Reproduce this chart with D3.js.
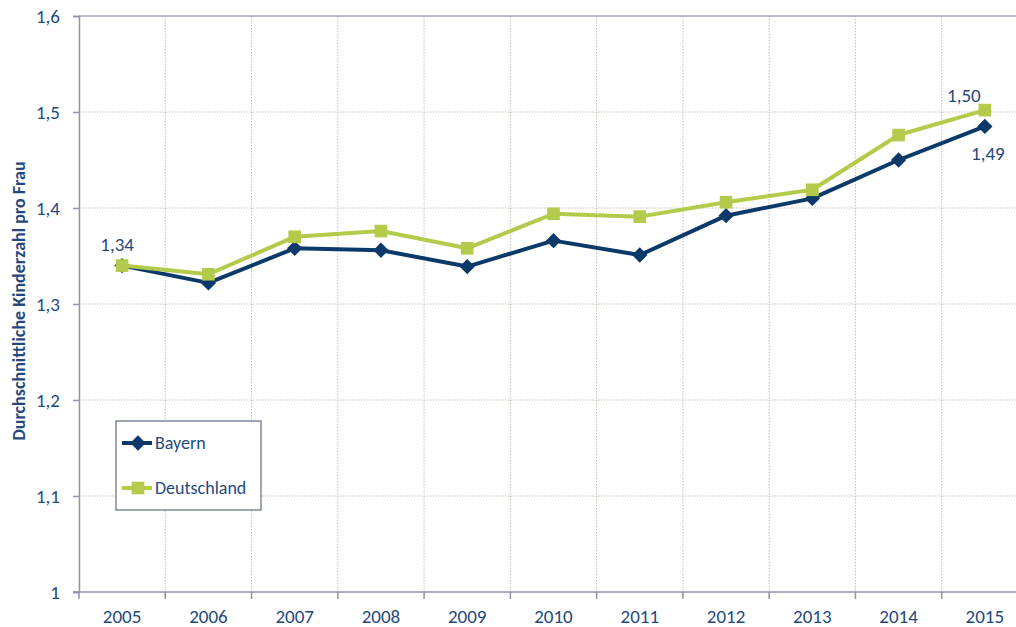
<!DOCTYPE html>
<head>
    <meta charset="utf-8">
    <script src="https://d3js.org/d3.v7.min.js"></script>
    <style>
        body { margin: 0; background: #fff; }
    </style>
</head>
<body>
<svg width="1016" height="627" font-family="Carlito, Lato, sans-serif"></svg>
<script>

// chart values
const years = ["2005", "2006", "2007", "2008", "2009", "2010", "2011", "2012", "2013", "2014", "2015"];
const bayern = [1.340, 1.322, 1.358, 1.356, 1.339, 1.366, 1.351, 1.392, 1.410, 1.450, 1.485];
const deutschland = [1.340, 1.331, 1.370, 1.376, 1.358, 1.394, 1.391, 1.406, 1.419, 1.476, 1.502];
const yTicks = [1, 1.1, 1.2, 1.3, 1.4, 1.5, 1.6];
const seriesNames = ["Bayern", "Deutschland"];
// value labels: [series index, year index, text]
const valueLabels = [[1, 0, "1,34"], [1, 10, "1,50"], [0, 10, "1,49"]];

const textColor = "#1f497d",
      axisColor = "#8e93a7",
      gridColor = "#c4bdb0",
      colors = ["#0b3a6a", "#b3cb4b"];

let svg = d3.select("svg");

// plot area runs off the right edge, like the original
let x = d3.scaleBand()
    .domain(years)
    .range([79, 1028]);

let y = d3.scaleLinear()
    .domain([1, 1.6])
    .range([592, 16]);

let fmt = function(d) { return d3.format(".1~f")(d).replace(".", ","); };

// horizontal grid
svg.append("g")
  .selectAll("line")
  .data(yTicks.slice(1, -1))
  .enter().append("line")
    .attr("x1", x.range()[0]).attr("x2", x.range()[1])
    .attr("y1", y).attr("y2", y)
    .attr("stroke", gridColor)
    .attr("stroke-dasharray", "1.5,1.5");

// vertical grid at category boundaries
svg.append("g")
  .selectAll("line")
  .data(years.slice(1))
  .enter().append("line")
    .attr("x1", function(d) { return x(d); }).attr("x2", function(d) { return x(d); })
    .attr("y1", y(1.6)).attr("y2", y(1))
    .attr("stroke", gridColor)
    .attr("stroke-dasharray", "1.5,1.5");

// top border
svg.append("line")
    .attr("x1", x.range()[0]).attr("x2", x.range()[1])
    .attr("y1", y(1.6)).attr("y2", y(1.6))
    .attr("stroke", "#a2a6b6").attr("stroke-width", 1.5);

// y axis
let yAxis = svg.append("g")
    .attr("transform", "translate(" + x.range()[0] + ",0)")
    .call(d3.axisLeft(y).tickValues(yTicks).tickFormat(fmt).tickSize(6).tickPadding(13));
yAxis.select(".domain").attr("stroke", axisColor).attr("stroke-width", 1.5);
yAxis.selectAll(".tick line").attr("stroke", axisColor).attr("stroke-width", 1.5);
yAxis.selectAll("text")
    .attr("fill", textColor)
    .attr("font-size", 19)
    .attr("font-family", "Carlito, Lato, sans-serif");

// x axis: ticks on boundaries, labels centred in the bands
let xAxis = svg.append("g").attr("transform", "translate(0," + y(1) + ")");
xAxis.append("line")
    .attr("x1", x.range()[0] - 6).attr("x2", x.range()[1])
    .attr("stroke", axisColor).attr("stroke-width", 1.5);
xAxis.selectAll(".tk")
  .data(years)
  .enter().append("line")
    .attr("class", "tk")
    .attr("x1", function(d) { return x(d); }).attr("x2", function(d) { return x(d); })
    .attr("y1", 0).attr("y2", 7)
    .attr("stroke", axisColor).attr("stroke-width", 1.5);
xAxis.selectAll("text")
  .data(years)
  .enter().append("text")
    .attr("x", function(d) { return x(d) + x.bandwidth() / 2; })
    .attr("y", 31)
    .attr("text-anchor", "middle")
    .attr("fill", textColor)
    .attr("font-size", 19)
    .text(function(d) { return d; });

// y axis title
svg.append("text")
    .attr("transform", "translate(25,301) rotate(-90)")
    .attr("text-anchor", "middle")
    .attr("fill", textColor)
    .attr("font-size", 18)
    .attr("font-weight", "bold")
    .text("Durchschnittliche Kinderzahl pro Frau");

// lines
let data = [bayern, deutschland];
let line = d3.line()
    .x(function(d, i) { return x(years[i]) + x.bandwidth() / 2; })
    .y(function(d) { return y(d); });

let diamond = d3.symbol().type(d3.symbolDiamond2).size(150);
let square = d3.symbol().type(d3.symbolSquare).size(160);

// Deutschland drawn last so it sits on top
[0, 1].forEach(function(s) {
  let g = svg.append("g");
  g.append("path")
      .attr("d", line(data[s]))
      .attr("fill", "none")
      .attr("stroke", colors[s])
      .attr("stroke-width", 4)
      .attr("stroke-linejoin", "round");
  g.selectAll("path.m")
    .data(data[s])
    .enter().append("path")
      .attr("class", "m")
      .attr("transform", function(d, i) { return "translate(" + (x(years[i]) + x.bandwidth() / 2) + "," + y(d) + ")"; })
      .attr("d", s === 0 ? diamond : square)
      .attr("fill", colors[s]);
});

// value labels
let labelOffsets = { "1,34": [-5, -15], "1,50": [-21, -8], "1,49": [3, 34] };
svg.selectAll(".vl")
  .data(valueLabels)
  .enter().append("text")
    .attr("class", "vl")
    .attr("x", function(d) { return x(years[d[1]]) + x.bandwidth() / 2 + labelOffsets[d[2]][0]; })
    .attr("y", function(d) { return y(data[d[0]][d[1]]) + labelOffsets[d[2]][1]; })
    .attr("text-anchor", "middle")
    .attr("fill", textColor)
    .attr("font-size", 19)
    .text(function(d) { return d[2]; });

// legend
let legend = svg.append("g").attr("transform", "translate(116,421)");
legend.append("rect")
    .attr("width", 145).attr("height", 89)
    .attr("fill", "#fff")
    .attr("stroke", "#5e6a80").attr("stroke-width", 1.2);

let item = legend.selectAll(".li")
  .data(seriesNames)
  .enter().append("g")
    .attr("class", "li")
    .attr("transform", function(d, i) { return "translate(0," + (22 + i * 45) + ")"; });
item.append("line")
    .attr("x1", 6).attr("x2", 36)
    .attr("stroke", function(d, i) { return colors[i]; })
    .attr("stroke-width", 4);
item.append("path")
    .attr("transform", "translate(22,0)")
    .attr("d", function(d, i) { return i === 0 ? diamond() : square(); })
    .attr("fill", function(d, i) { return colors[i]; });
item.append("text")
    .attr("x", 39)
    .attr("y", 6)
    .attr("fill", textColor)
    .attr("font-size", 18)
    .text(function(d) { return d; });

</script>
</body>
